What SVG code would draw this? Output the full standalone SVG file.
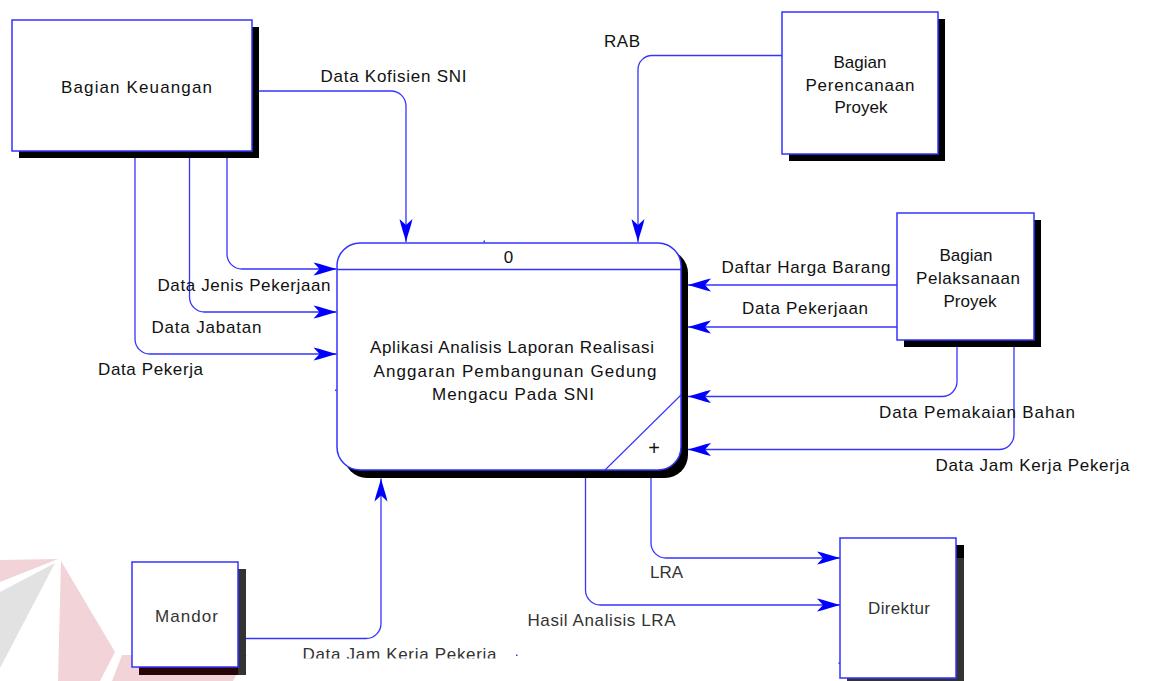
<svg xmlns="http://www.w3.org/2000/svg" width="1149" height="681" viewBox="0 0 1149 681">
  <style>
    .box { fill: #ffffff; stroke: #3333ff; stroke-width: 1.5; }
    .shadow { fill: #000000; }
    .flow { fill: none; stroke: #3535ff; stroke-width: 1.3; }
    .lbl { font-family: "Liberation Sans", Arial, sans-serif; font-size: 17px; fill: #111111; }
    .mid { text-anchor: middle; }
    .dim { fill: #333333; }
    .wm-pink { fill: #f2d3d7; }
    .wm-gray { fill: #e2e2e2; }
  </style>
  <defs>
    <marker id="arrow" markerUnits="userSpaceOnUse" markerWidth="26" markerHeight="16" refX="0" refY="0" viewBox="-24 -8 26 16" orient="auto" overflow="visible">
      <path d="M0,0 C-8,-2 -16,-5 -23,-6.5 L-17,0 L-23,6.5 C-16,5 -8,2 0,0 Z" fill="#0000ff"/>
    </marker>
    <clipPath id="cutBottom">
      <rect x="280" y="630" width="260" height="28.5"/>
    </clipPath>
  </defs>

  <rect width="1149" height="681" fill="#ffffff"/>

  <!-- faded logo mark in the lower left corner -->
  <g id="logo-mark">
    <polygon class="wm-pink" points="0,560 58,559 0,582"/>
    <polygon class="wm-gray" points="0,592 55,563 0,668"/>
    <polygon class="wm-pink" points="61,561 115,652 100,681 58,681"/>
    <polygon class="wm-pink" points="122,655 247,655 233,681 112,681"/>
  </g>

  <!-- external entities -->
  <g id="bagian-keuangan">
    <rect class="shadow" x="19" y="27" width="240" height="131"/>
    <rect class="box" x="12" y="20" width="240" height="131"/>
    <text class="lbl mid" x="136.5" y="93" textLength="151" lengthAdjust="spacing">Bagian Keuangan</text>
  </g>

  <g id="bagian-perencanaan">
    <rect class="shadow" x="789" y="19" width="156" height="142"/>
    <rect class="box" x="782" y="12" width="156" height="142"/>
    <text class="lbl mid" x="860" y="68">Bagian</text>
    <text class="lbl mid" x="860" y="91" textLength="109" lengthAdjust="spacing">Perencanaan</text>
    <text class="lbl mid" x="861" y="113">Proyek</text>
  </g>

  <g id="bagian-pelaksanaan">
    <rect class="shadow" x="904" y="220" width="137" height="127"/>
    <rect class="box" x="897" y="213" width="137" height="127"/>
    <text class="lbl mid" x="966" y="261">Bagian</text>
    <text class="lbl mid" x="968" y="284" textLength="104" lengthAdjust="spacing">Pelaksanaan</text>
    <text class="lbl mid" x="970" y="307">Proyek</text>
  </g>

  <g id="mandor">
    <rect x="139" y="569" width="107" height="106" fill="#2a0505"/>
    <rect x="238" y="569" width="8" height="106" fill="#333333"/>
    <rect class="box" x="132" y="562" width="106" height="105"/>
    <text class="lbl mid dim" x="186.5" y="622" textLength="63" lengthAdjust="spacing">Mandor</text>
  </g>

  <g id="direktur">
    <rect x="847" y="545" width="117" height="140" fill="#333333"/>
    <rect x="956" y="545" width="8" height="13" fill="#000000"/>
    <rect class="box" x="840" y="538" width="116" height="140"/>
    <text class="lbl mid dim" x="899" y="614" textLength="62" lengthAdjust="spacing">Direktur</text>
  </g>

  <!-- process 0 -->
  <g id="proses-0">
    <rect class="shadow" x="344" y="250" width="344" height="228" rx="23" ry="23"/>
    <rect class="box" x="337" y="243" width="344" height="227" rx="23" ry="23"/>
    <line x1="337" y1="269.5" x2="681" y2="269.5" stroke="#3333ff" stroke-width="1.3"/>
    <line x1="681" y1="395" x2="605" y2="470" stroke="#3333ff" stroke-width="1.1"/>
    <text class="lbl mid" x="508.5" y="263">0</text>
    <text class="lbl mid" x="512" y="353" textLength="284" lengthAdjust="spacing">Aplikasi Analisis Laporan Realisasi</text>
    <text class="lbl mid" x="515" y="377" textLength="283" lengthAdjust="spacing">Anggaran Pembangunan Gedung</text>
    <text class="lbl mid" x="513" y="400" textLength="162" lengthAdjust="spacing">Mengacu Pada SNI</text>
    <text class="lbl mid" x="654" y="455" style="font-size:20px">+</text>
    <rect x="483.5" y="240.5" width="1.5" height="2" fill="#3333ff"/>
    <rect x="335" y="389.5" width="1.5" height="1.5" fill="#3333ff"/>
  </g>

  <!-- data flows -->
  <g id="connectors">
    <path class="flow" marker-end="url(#arrow)" d="M259,91 H391 A15,15 0 0 1 406,106 V242"/>
    <path class="flow" marker-end="url(#arrow)" d="M782,55.5 H652 A14,14 0 0 0 638,69.5 V242"/>
    <path class="flow" marker-end="url(#arrow)" d="M227,158 V254 A15,15 0 0 0 242,269 H336.5"/>
    <path class="flow" marker-end="url(#arrow)" d="M189.5,158 V297 A15,15 0 0 0 204.5,312 H336.5"/>
    <path class="flow" marker-end="url(#arrow)" d="M135,158 V339 A15,15 0 0 0 150,354 H336.5"/>
    <path class="flow" marker-end="url(#arrow)" d="M897,285 H688"/>
    <path class="flow" marker-end="url(#arrow)" d="M897,327 H688"/>
    <path class="flow" marker-end="url(#arrow)" d="M957,347 V381 A15,15 0 0 1 942,396.5 H688"/>
    <path class="flow" marker-end="url(#arrow)" d="M1014,347 V434 A15,15 0 0 1 999,449.5 H688"/>
    <path class="flow" marker-end="url(#arrow)" d="M246,638.5 H366 A15,15 0 0 0 381,623.5 V478.5"/>
    <path class="flow" marker-end="url(#arrow)" d="M651,478 V543 A15,15 0 0 0 666,558 H840"/>
    <path class="flow" marker-end="url(#arrow)" d="M585.5,478 V590 A15,15 0 0 0 600.5,605 H840"/>
    <rect x="516" y="654.5" width="1.5" height="1.5" fill="#3333ff"/>
    <rect x="838.5" y="662.5" width="1.5" height="1.5" fill="#3333ff"/>
  </g>

  <!-- flow labels -->
  <g id="flow-labels">
    <text class="lbl" x="320.5" y="82" textLength="146" lengthAdjust="spacing">Data Kofisien SNI</text>
    <text class="lbl" x="604" y="47" textLength="36" lengthAdjust="spacing">RAB</text>
    <text class="lbl" x="157.5" y="291" textLength="173" lengthAdjust="spacing">Data Jenis Pekerjaan</text>
    <text class="lbl" x="151.5" y="333" textLength="110" lengthAdjust="spacing">Data Jabatan</text>
    <text class="lbl" x="98" y="375" textLength="105" lengthAdjust="spacing">Data Pekerja</text>
    <text class="lbl" x="721.5" y="273" textLength="169" lengthAdjust="spacing">Daftar Harga Barang</text>
    <text class="lbl" x="742" y="314" textLength="126" lengthAdjust="spacing">Data Pekerjaan</text>
    <text class="lbl" x="879" y="418" textLength="196" lengthAdjust="spacing">Data Pemakaian Bahan</text>
    <text class="lbl" x="935.5" y="471" textLength="194" lengthAdjust="spacing">Data Jam Kerja Pekerja</text>
    <text class="lbl dim" x="650" y="578" textLength="33" lengthAdjust="spacing">LRA</text>
    <text class="lbl dim" x="527.5" y="626" textLength="148" lengthAdjust="spacing">Hasil Analisis LRA</text>
    <text class="lbl dim" x="302.5" y="660" textLength="194" lengthAdjust="spacing" clip-path="url(#cutBottom)">Data Jam Kerja Pekerja</text>
  </g>
</svg>
